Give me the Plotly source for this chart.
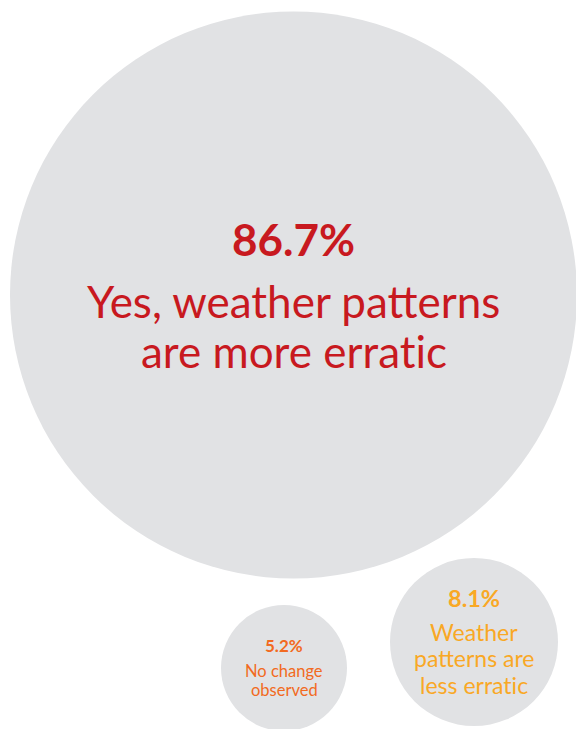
import plotly.graph_objects as go

# ---- data ----
categories = ["Yes, weather patterns are more erratic",
              "Weather patterns are less erratic",
              "No change observed"]
values = [86.7, 8.1, 5.2]
label_lines = [["Yes, weather patterns", "are more errat\u200cic"],
               ["Weather", "patterns are", "less errat\u200cic"],
               ["No change", "observed"]]

# ---- layout / style (pixel space) ----
W, H = 576, 729
centers_x = [293.5, 474, 284]
centers_y = [295, 642, 668]
diameters = [567, 168, 126]
text_colors = ["#C8191F", "#F9A825", "#F26A21"]
pct_sizes = [44, 23.5, 17]
lbl_sizes = [44, 23, 16.5]
pct_baseline = [255, 606.5, 652]
lbl_baseline0 = [317, 640, 677.3]
lbl_spacing = [50, 26.7, 18.3]
circle_fill = "#E1E2E4"
FONT = "Lato"

fig = go.Figure()
fig.add_trace(go.Scatter(
    x=centers_x, y=centers_y, mode="markers",
    marker=dict(size=diameters, color=circle_fill, line=dict(width=0), opacity=1),
    hoverinfo="skip", showlegend=False,
))

ann = []
for i, v in enumerate(values):
    ps = pct_sizes[i]
    ann.append(dict(x=centers_x[i], y=pct_baseline[i] - 0.36 * ps, xref="x", yref="y",
                    text=f"<b>{v:.1f}%</b>", showarrow=False, xanchor="center", yanchor="middle",
                    font=dict(family=FONT, size=ps, color=text_colors[i])))
    ls = lbl_sizes[i]
    for j, line in enumerate(label_lines[i]):
        b = lbl_baseline0[i] + j * lbl_spacing[i]
        ann.append(dict(x=centers_x[i], y=b - 0.36 * ls, xref="x", yref="y",
                        text=line, showarrow=False, xanchor="center", yanchor="middle",
                        font=dict(family=FONT, size=ls, color=text_colors[i])))

fig.update_layout(
    width=W, height=H, margin=dict(l=0, r=0, t=0, b=0),
    paper_bgcolor="white", plot_bgcolor="white",
    xaxis=dict(range=[0, W], visible=False, fixedrange=True),
    yaxis=dict(range=[H, 0], visible=False, fixedrange=True),
    annotations=ann,
)
fig.write_html("out.html", config={"displayModeBar": False},
               post_script="document.body.style.margin='0';document.body.style.overflow='hidden';")
